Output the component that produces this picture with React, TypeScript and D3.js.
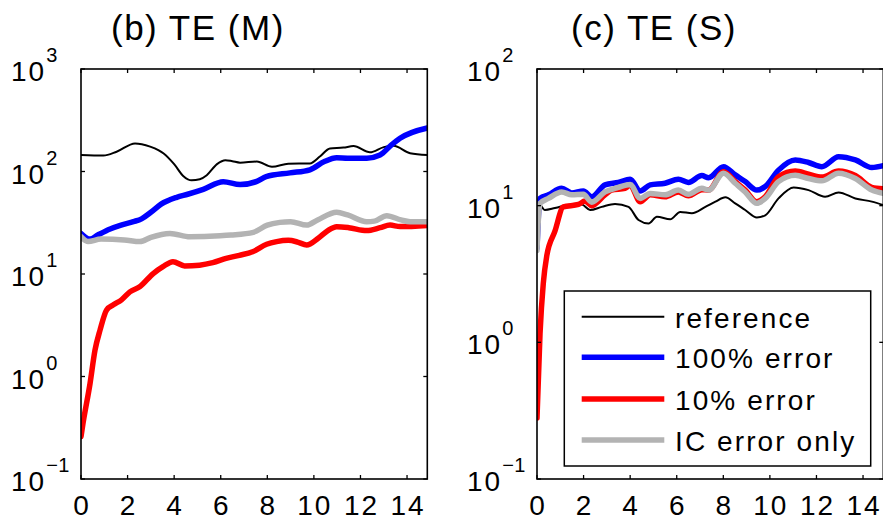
import React from "react";
import * as d3 from "d3";

// ---------- data ----------
const xTickValues = [0, 2, 4, 6, 8, 10, 12, 14];
const xMax = 14.87;

// Panel (b) TE (M)
const mRefT = [0, 0.96, 1.53, 2.32, 2.97, 3.32, 3.55, 4.0, 4.4, 4.75, 5.1, 5.4, 5.84, 6.2, 6.5, 6.83, 7.55, 8.2, 8.9, 9.83, 10.27, 10.69, 11.27, 11.7, 12.41, 13.0, 13.42, 14.13, 14.87];
const mRefV = [145, 143, 156, 188, 175, 162, 150, 118, 90, 82, 84, 92, 118, 129, 126, 122, 125, 111, 119, 120, 141, 168, 171, 177, 154, 173, 178, 151, 145];

const mBlueT = [0, 0.39, 0.72, 1.25, 1.72, 2.25, 2.6, 3.0, 3.44, 4.11, 4.58, 5.25, 6.11, 6.83, 7.55, 7.95, 8.97, 9.83, 10.45, 10.98, 11.45, 12.27, 12.84, 13.32, 13.7, 14.87];
const mBlueV = [24.9, 21.9, 24, 27.5, 30, 32.4, 34.5, 40, 48, 56, 60, 67, 79.4, 74.5, 80, 89, 97, 104, 125, 136, 135, 135, 145, 181, 211, 266];

const mRedT = [0, 0.06, 0.39, 0.6, 0.82, 1.1, 1.39, 1.74, 2.1, 2.52, 3.1, 3.52, 3.95, 4.45, 5.09, 5.66, 6.23, 6.8, 7.37, 7.97, 8.4, 8.9, 9.3, 9.69, 10.2, 10.6, 10.98, 11.5, 12.27, 12.84, 13.27, 13.7, 14.87];
const mRedV = [0.259, 0.32, 0.86, 1.8, 2.85, 4.46, 5.0, 5.6, 6.7, 7.5, 10.1, 11.8, 13.2, 12.0, 12.2, 12.9, 14.2, 15.2, 16.5, 19.5, 20.7, 21.3, 20.5, 19.2, 22.5, 26.5, 28.9, 28.3, 26.5, 28.3, 30, 29, 29.8];

const mGrayT = [0, 0.3, 0.86, 1.86, 2.53, 3.0, 3.82, 4.68, 5.97, 6.44, 7.4, 8.0, 8.54, 9.0, 9.69, 10.16, 10.98, 11.45, 12.27, 12.6, 13.13, 13.74, 14.13, 14.87];
const mGrayV = [23.1, 20.7, 21.9, 21.5, 20.7, 22.8, 24.9, 23.1, 23.6, 24, 25.5, 30, 31.9, 32.4, 30, 33.7, 40, 37.7, 32.4, 32.8, 37.1, 33.7, 32.4, 32.4];

// Panel (c) TE (S)
const sRefT = [0, 0.1, 0.34, 0.77, 1.49, 1.92, 2.28, 2.78, 3.35, 3.93, 4.36, 4.79, 5.15, 5.72, 6.15, 6.65, 7.23, 7.66, 8.09, 8.51, 8.94, 9.44, 9.8, 10.37, 11.02, 11.66, 12.37, 12.95, 13.67, 14.38, 14.87];
const sRefV = [10.7, 10.4, 9.3, 9.6, 10.2, 10.2, 9.3, 9.8, 10.3, 9.8, 7.85, 7.4, 8.3, 7.95, 9.0, 8.8, 9.8, 10.7, 11.5, 10.4, 9.3, 8.2, 8.5, 11.3, 13.6, 13.0, 11.6, 12.5, 11.3, 10.7, 10.1];

const sBlueT = [0, 0.08, 0.13, 0.49, 1.06, 1.49, 1.99, 2.35, 2.92, 3.49, 4.0, 4.43, 4.86, 5.5, 6.07, 6.5, 7.08, 7.37, 8.01, 8.51, 8.94, 9.44, 9.8, 10.37, 11.09, 11.66, 12.23, 12.95, 13.67, 14.38, 14.87];
const sBlueV = [4.9, 9.5, 11.3, 12.0, 13.4, 12.4, 12.8, 11.6, 14.2, 14.8, 15.6, 12.8, 14.2, 14.6, 15.6, 14.8, 16.6, 16.0, 19.3, 16.8, 15.0, 13.0, 13.8, 18.2, 21.6, 20.7, 19.3, 22.8, 21.6, 19.0, 19.6];

const sRedT = [0, 0.13, 0.27, 0.42, 0.77, 1.13, 1.78, 2.06, 2.35, 2.92, 3.2, 3.78, 4.0, 4.43, 4.86, 5.5, 6.07, 6.5, 7.08, 7.37, 8.01, 8.51, 8.94, 9.44, 9.8, 10.37, 11.09, 11.66, 12.23, 12.95, 13.67, 14.38, 14.87];
const sRedV = [0.28, 1.16, 2.7, 4.3, 6.5, 9.8, 10.2, 10.8, 10.0, 12.0, 13.0, 13.4, 14.1, 10.7, 12.0, 11.6, 12.6, 11.8, 13.1, 13.0, 17.7, 15.0, 13.0, 10.7, 11.6, 16.3, 17.9, 17.0, 16.2, 17.9, 16.6, 13.6, 13.3];

const sGrayT = [0, 0.08, 0.13, 0.49, 1.06, 1.49, 1.99, 2.35, 2.92, 3.49, 4.0, 4.43, 4.86, 5.5, 6.07, 6.5, 7.08, 7.37, 8.01, 8.51, 8.94, 9.44, 9.8, 10.37, 11.09, 11.66, 12.23, 12.95, 13.67, 14.38, 14.87];
const sGrayV = [4.7, 9.0, 10.4, 11.3, 12.6, 12.0, 12.1, 10.6, 12.6, 13.6, 14.3, 11.3, 12.3, 12.0, 13.0, 12.1, 13.4, 13.0, 17.3, 14.6, 12.6, 10.4, 11.3, 15.0, 16.7, 15.8, 15.2, 17.3, 15.8, 13.0, 12.3];

const legendLabels = ["reference", "100% error", "10% error", "IC error only"];
const seriesColors = ["#000000", "#0000ff", "#ff0000", "#b3b3b3"];

// ---------- styling ----------
const FONT = "'Liberation Sans', Arial, Helvetica, sans-serif";
const W = 883;
const H = 521;

type Series = { t: number[]; v: number[]; color: string; width: number };

function Panel(props: {
  id: string;
  x0: number;
  x1: number;
  y0: number;
  y1: number;
  yExpMin: number;
  yExpMax: number;
  title: string;
  titleX: number;
  series: Series[];
}) {
  const { id, x0, x1, y0, y1, yExpMin, yExpMax, title, titleX, series } = props;
  const x = d3.scaleLinear().domain([0, xMax]).range([x0, x1]);
  const y = d3
    .scaleLog()
    .domain([Math.pow(10, yExpMin), Math.pow(10, yExpMax)])
    .range([y1, y0]);
  const line = d3
    .line<[number, number]>()
    .x((d) => x(d[0]))
    .y((d) => y(d[1]))
    .curve(d3.curveMonotoneX);
  const exps = d3.range(yExpMin, yExpMax + 1);
  const tl = 4;
  return (
    <g>
      <defs>
        <clipPath id={id}>
          <rect x={x0} y={y0} width={x1 - x0} height={y1 - y0} />
        </clipPath>
      </defs>
      <text
        x={titleX}
        y={40}
        fontFamily={FONT}
        fontSize={35}
        letterSpacing={1.5}
        fill="#000"
      >
        {title}
      </text>
      <g clipPath={`url(#${id})`}>
        {series.map((s, i) => (
          <path
            key={i}
            d={line(s.t.map((t, k) => [t, s.v[k]] as [number, number])) || ""}
            fill="none"
            stroke={s.color}
            strokeWidth={s.width}
            strokeLinejoin="round"
            strokeLinecap="round"
          />
        ))}
      </g>
      {/* axes box */}
      <rect
        x={x0}
        y={y0}
        width={x1 - x0}
        height={y1 - y0}
        fill="none"
        stroke="#000"
        strokeWidth={1.6}
      />
      {/* x ticks */}
      {xTickValues.map((v) => (
        <g key={"x" + v}>
          <line x1={x(v)} x2={x(v)} y1={y1} y2={y1 - tl} stroke="#000" strokeWidth={1.3} />
          <line x1={x(v)} x2={x(v)} y1={y0} y2={y0 + tl} stroke="#000" strokeWidth={1.3} />
          <text
            x={x(v) + 1}
            y={515}
            textAnchor="middle"
            fontFamily={FONT}
            fontSize={28}
            letterSpacing={2}
            fill="#000"
          >
            {String(v)}
          </text>
        </g>
      ))}
      {/* y ticks */}
      {exps.map((e) => {
        const yy = y(Math.pow(10, e));
        return (
          <g key={"y" + e}>
            <line x1={x0} x2={x0 + tl} y1={yy} y2={yy} stroke="#000" strokeWidth={1.3} />
            <line x1={x1} x2={x1 - tl} y1={yy} y2={yy} stroke="#000" strokeWidth={1.3} />
            <text
              x={x0 - 70}
              y={yy + 12}
              fontFamily={FONT}
              fontSize={28}
              letterSpacing={2}
              fill="#000"
            >
              10
              <tspan fontSize={20} dy={-19} letterSpacing={0.5}>
                {e < 0 ? "\u2212" + Math.abs(e) : String(e)}
              </tspan>
            </text>
          </g>
        );
      })}
    </g>
  );
}

function Legend() {
  const bx = 564.3;
  const by = 291;
  const bw = 306.4;
  const bh = 175;
  const rows = [316.7, 357.3, 399, 440];
  const widths = [2, 5.5, 5.5, 5.5];
  return (
    <g>
      <rect x={bx} y={by} width={bw} height={bh} fill="#fff" stroke="#000" strokeWidth={1.5} />
      {legendLabels.map((lab, i) => (
        <g key={lab}>
          <line
            x1={581.7}
            x2={664.3}
            y1={rows[i]}
            y2={rows[i]}
            stroke={seriesColors[i]}
            strokeWidth={widths[i]}
          />
          <text
            x={675}
            y={rows[i] + 11}
            fontFamily={FONT}
            fontSize={28}
            letterSpacing={2.1}
            fill="#000"
          >
            {lab}
          </text>
        </g>
      ))}
    </g>
  );
}

export default function App() {
  const mSeries: Series[] = [
    { t: mRefT, v: mRefV, color: seriesColors[0], width: 2 },
    { t: mBlueT, v: mBlueV, color: seriesColors[1], width: 5.5 },
    { t: mRedT, v: mRedV, color: seriesColors[2], width: 5.5 },
    { t: mGrayT, v: mGrayV, color: seriesColors[3], width: 5.5 },
  ];
  const sSeries: Series[] = [
    { t: sRefT, v: sRefV, color: seriesColors[0], width: 2 },
    { t: sBlueT, v: sBlueV, color: seriesColors[1], width: 5.5 },
    { t: sRedT, v: sRedV, color: seriesColors[2], width: 5.5 },
    { t: sGrayT, v: sGrayV, color: seriesColors[3], width: 5.5 },
  ];
  return (
    <svg
      width={W}
      height={H}
      viewBox={`0 0 ${W} ${H}`}
      style={{ position: "absolute", left: 0, top: 0, background: "#fff" }}
    >
      <rect x={0} y={0} width={W} height={H} fill="#fff" />
      <Panel
        id="clipM"
        x0={81}
        x1={427.3}
        y0={69}
        y1={479}
        yExpMin={-1}
        yExpMax={3}
        title="(b) TE (M)"
        titleX={111}
        series={mSeries}
      />
      <Panel
        id="clipS"
        x0={537}
        x1={883.3}
        y0={69}
        y1={479}
        yExpMin={-1}
        yExpMax={2}
        title="(c) TE (S)"
        titleX={571}
        series={sSeries}
      />
      <Legend />
    </svg>
  );
}
